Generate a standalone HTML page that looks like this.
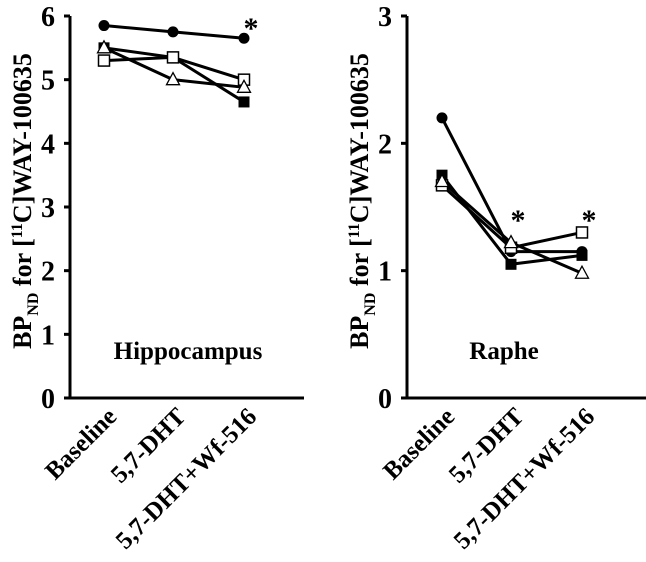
<!DOCTYPE html>
<html><head><meta charset="utf-8"><style>
html,body{margin:0;padding:0;background:#fff;}
svg text{font-family:"Liberation Serif",serif;font-weight:bold;fill:#000;}
</style></head><body>
<svg id="c" width="646" height="557" viewBox="0 0 646 557" xmlns="http://www.w3.org/2000/svg"></svg>
<script>
const categories = ["Baseline","5,7-DHT","5,7-DHT+Wf-516"];
const hipCircle = [5.85,5.75,5.65];
const hipFilledSquare = [5.5,5.35,4.65];
const hipOpenSquare = [5.3,5.35,5.0];
const hipTriangle = [5.5,5.0,4.88];
const rapCircle = [2.2,1.15,1.15];
const rapFilledSquare = [1.75,1.05,1.12];
const rapOpenSquare = [1.67,1.18,1.3];
const rapTriangle = [1.7,1.22,0.98];
const hipTicks = [0,1,2,3,4,5,6];
const rapTicks = [0,1,2,3];
const hipStars = [2];
const rapStars = [1,2];

const NS="http://www.w3.org/2000/svg";
const svg=document.getElementById('c');
function mk(tag,attrs,parent){const e=document.createElementNS(NS,tag);for(const k in attrs)e.setAttribute(k,attrs[k]);(parent||svg).appendChild(e);return e;}

function panel(cfg){
  const g=mk('g',{});
  
  
  const y=v=>398-(v/cfg.max)*382;
  const x=i=>cfg.xs[i];
  const ya=mk('line',{x1:cfg.ax,y1:16,x2:cfg.ax,y2:399,stroke:'#000','stroke-width':3},g);
  
  
  const xa=mk('line',{x1:cfg.ax-1.5,y1:398,x2:cfg.xend,y2:398,stroke:'#000','stroke-width':3},g);
  
  
  cfg.ticks.forEach(t=>{
    const tk=mk('line',{x1:cfg.ax-6,y1:y(t),x2:cfg.ax,y2:y(t),stroke:'#000','stroke-width':3},g);
    
    
    const tl=mk('text',{x:cfg.ax-22,y:y(t)+10,'text-anchor':'middle','font-size':28},g);
    tl.textContent=t;
    
    
  });
  const yl=mk('text',{transform:`translate(${cfg.lx},201) rotate(-90)`,'text-anchor':'middle','font-size':26},g);
  yl.innerHTML='BP<tspan font-size="16" dy="7">ND</tspan><tspan dy="-7"> for [</tspan><tspan font-size="16" dy="-9">11</tspan><tspan dy="9">C]WAY-100635</tspan>';
  
  
  categories.forEach((c,i)=>{
    const t=mk('text',{transform:`translate(${x(i)+14},418) rotate(-45)`,'text-anchor':'end','font-size':25},g);
    t.textContent=c;
    
    
  });
  const rl=mk('text',{x:cfg.rx,y:359,'text-anchor':'middle','font-size':25},g);
  rl.textContent=cfg.region;
  
  
  cfg.series.forEach(s=>{
    const pts=s.vals.map((v,i)=>x(i)+','+y(v)).join(' ');
    const l=mk('polyline',{points:pts,fill:'none',stroke:'#000','stroke-width':3},g);
    
    
  });
  cfg.series.forEach(s=>{
    s.vals.forEach((v,i)=>{
      const cx=x(i),cy=y(v);let m;
      if(s.type==='circle') m=mk('circle',{cx,cy,r:5.5,fill:'#000'},g);
      else if(s.type==='fsq') m=mk('rect',{x:cx-5.5,y:cy-5.5,width:11,height:11,fill:'#000'},g);
      else if(s.type==='osq') m=mk('rect',{x:cx-5.5,y:cy-5.5,width:11,height:11,fill:'#fff',stroke:'#000','stroke-width':1.5},g);
      else m=mk('polygon',{points:`${cx},${cy-7} ${cx-6.5},${cy+5} ${cx+6.5},${cy+5}`,fill:'#fff',stroke:'#000','stroke-width':1.3},g);
      
      
    });
  });
  cfg.stars.forEach(i=>{
    const st=mk('text',{x:x(i)+7,y:cfg.starY,'text-anchor':'middle','font-size':30,'font-weight':'normal'},g);
    st.textContent='*';
    
    
  });
}
panel({name:'hippocampus-chart',max:6,ax:70,xend:304,xs:[104,173,244],lx:31,rx:188,region:'Hippocampus',ticks:hipTicks,stars:hipStars,starY:38,
  series:[{id:'circle',type:'circle',vals:hipCircle},{id:'filled-square',type:'fsq',vals:hipFilledSquare},{id:'open-square',type:'osq',vals:hipOpenSquare},{id:'triangle',type:'tri',vals:hipTriangle}]});
panel({name:'raphe-chart',max:3,ax:407,xend:646,xs:[442,511,582],lx:368,rx:504,region:'Raphe',ticks:rapTicks,stars:rapStars,starY:230,
  series:[{id:'circle',type:'circle',vals:rapCircle},{id:'filled-square',type:'fsq',vals:rapFilledSquare},{id:'open-square',type:'osq',vals:rapOpenSquare},{id:'triangle',type:'tri',vals:rapTriangle}]});
</script>
</body></html>
